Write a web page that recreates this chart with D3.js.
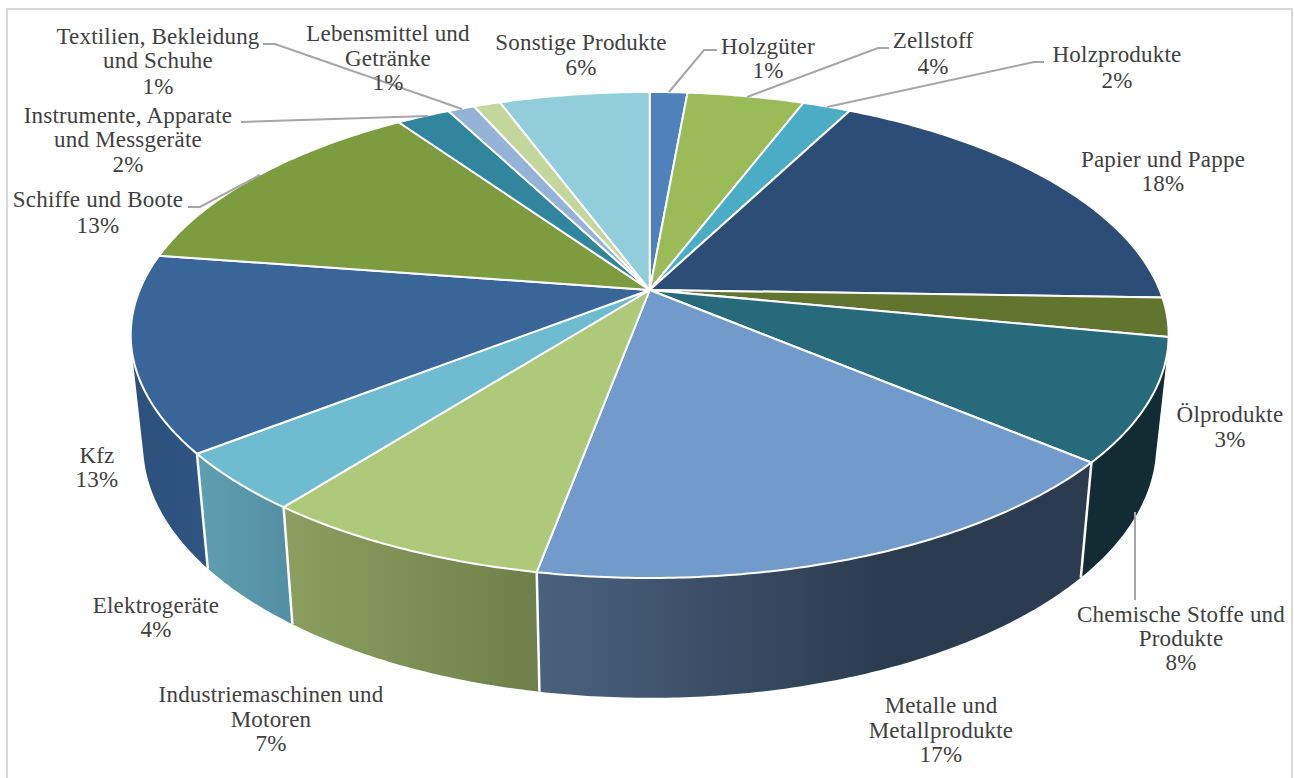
<!DOCTYPE html>
<html lang="de"><head><meta charset="utf-8"><title>Pie</title>
<script src="https://cdn.jsdelivr.net/npm/d3@7"></script>
<style>html,body{margin:0;padding:0;background:#fff;overflow:hidden}svg{display:block}
text{font-family:"Liberation Serif",serif;fill:#404040}</style></head><body>
<svg id="c" width="1294" height="778"></svg>
<script>
// --- data -----------------------------------------------------------------
const categories = ["Holzgüter","Zellstoff","Holzprodukte","Papier und Pappe","Ölprodukte","Chemische Stoffe und Produkte","Metalle und Metallprodukte","Industriemaschinen und Motoren","Elektrogeräte","Kfz","Schiffe und Boote","Instrumente, Apparate und Messgeräte","Textilien, Bekleidung und Schuhe","Lebensmittel und Getränke","Sonstige Produkte"];
const values = [1.4,4.35,1.8,17.95,2.6,8.1,16.7,7.6,3.9,13,13,2,1,1,5.6];
const percentLabels = ["1%","4%","2%","18%","3%","8%","17%","7%","4%","13%","13%","2%","1%","1%","6%"];
// --- styles ----------------------------------------------------------------
const topColors = ["#4f81bd","#9bbb59","#4bacc6","#2c4d75","#62752f","#276a7c","#729aca","#afc97a","#6fbbd0","#3a6599","#7d9c3f","#31859c","#95b3d7","#c3d69b","#92cddc"];
const wallFrom = ["#3a6599","#728a42","#37798c","#203856","#4a5823","#122c33","#4a617f","#8c9f60","#5e9fb1","#2d507c","#5c732f","#245f70","#7a93b0","#9aaa7c","#74a3af"];
const wallTo   = ["#3a6599","#728a42","#37798c","#203856","#4a5823","#122c33","#2c3c50","#6e7f4a","#5490a4","#2f5482","#5c732f","#245f70","#7a93b0","#9aaa7c","#74a3af"];
// label layout
const labelLines = [["Holzgüter"],["Zellstoff"],["Holzprodukte"],["Papier und Pappe"],["Ölprodukte"],["Chemische Stoffe und","Produkte"],["Metalle und","Metallprodukte"],["Industriemaschinen und","Motoren"],["Elektrogeräte"],["Kfz"],["Schiffe und Boote"],["Instrumente, Apparate","und Messgeräte"],["Textilien, Bekleidung","und Schuhe"],["Lebensmittel und","Getränke"],["Sonstige Produkte"]];
const labelX = [768,933,1117,1163,1230,1181,941,271,156,97,98,128,158,388,581];
const labelY = [[47,71],[41,67],[55,81],[160,184],[415,440],[615,639,663],[706,731,755],[695,720,744],[606,630],[456,480],[200,226],[116,140,165],[37,61,87],[34,59,83],[43,68]];
const leaders = [
 [[717,50],[704,50],[669,92]],
 [[889,48],[878,48],[747,97]],
 [[1044,62],[1034,62],[827,107]],
 [[1135,600],[1135,512]],
 [[188,207],[200,207],[260,175]],
 [[241,122],[428,116]],
 [[263,44],[275,44],[462,109]]
];
// --- geometry ---------------------------------------------------------------
const cx=649.7, cy=290, R=510, Ry=234.7, k=0.185;
const persp = d3.scaleLinear().domain([-1,1]).range([1+k,1-k]);
function topPoint(a){ const u=Math.sin(a), v=-Math.cos(a), w=persp(v); return [cx+R*u/w, cy+Ry*v/w]; }
const botX=d3.scaleLinear().domain([-600,600]).range([cx-585.6,cx+585.6]);
const botY=d3.scaleLinear().domain([0,100]).range([108.3+cy,104+108.3+cy]);
function botPoint(a){ const p=topPoint(a); return [botX(p[0]-cx), botY(p[1]-cy)]; }
const pie=d3.pie().sort(null).startAngle(0).endAngle(2*Math.PI);
const arcs=pie(values);
const arcAngles=d=>{const n=Math.max(4,Math.ceil((d.endAngle-d.startAngle)/0.01));return d3.range(n+1).map(i=>d.startAngle+(d.endAngle-d.startAngle)*i/n);};
const line=d3.line();
const svg=d3.select("#c");
svg.append("rect").attr("x",7).attr("y",9).attr("width",1285).attr("height",780).attr("fill","#fff").attr("stroke","#d9d9d9").attr("stroke-width",2);
const defs=svg.append("defs");
arcs.forEach((d,i)=>{
  const xs=arcAngles(d).map(a=>topPoint(a)[0]);
  const g=defs.append("linearGradient").attr("id","w"+i).attr("gradientUnits","userSpaceOnUse")
    .attr("x1",d3.min(xs)).attr("x2",d3.max(xs)).attr("y1",0).attr("y2",0);
  g.append("stop").attr("offset",0).attr("stop-color",wallFrom[i]);
  g.append("stop").attr("offset",i===6?0.62:1).attr("stop-color",wallTo[i]);
});
// a wall is the union of small quads, each with the same winding, so its outline follows the true silhouette
function wallPath(d){
  const as=arcAngles(d); let s="";
  for(let j=0;j<as.length-1;j++){
    let q=[topPoint(as[j]),topPoint(as[j+1]),botPoint(as[j+1]),botPoint(as[j])];
    if(d3.polygonArea(q)<0) q=q.reverse();
    s+=line(q)+"Z";
  }
  return s;
}
const order=arcs.map((d,i)=>({d,i})).sort((a,b)=>Math.cos(b.d.startAngle/2+b.d.endAngle/2)-Math.cos(a.d.startAngle/2+a.d.endAngle/2));
svg.append("g").selectAll("path").data(order).join("path")
  .attr("d",o=>wallPath(o.d)).attr("fill",o=>`url(#w${o.i})`);
// white seams on the visible front edges
const seams=arcs.map(d=>d.startAngle).filter(a=>-Math.cos(a)>0.25);
svg.append("g").selectAll("path").data(seams).join("path")
  .attr("d",a=>line([topPoint(a),botPoint(a)])).attr("stroke","#fff").attr("stroke-width",2.5).attr("fill","none");
// top
svg.append("g").selectAll("path").data(arcs).join("path")
  .attr("d",d=>line([[cx,cy]].concat(arcAngles(d).map(topPoint)))+"Z")
  .attr("fill",(d,i)=>topColors[i]).attr("stroke","#fff").attr("stroke-width",2).attr("stroke-linejoin","round");
// leaders
svg.append("g").selectAll("path").data(leaders).join("path").attr("d",line).attr("fill","none").attr("stroke","#a6a6a6").attr("stroke-width",2);
// labels
const lab=svg.append("g").selectAll("text").data(categories).join("text").attr("text-anchor","middle").attr("font-size",23).attr("letter-spacing",0.2);
lab.each(function(c,i){
  const lines=labelLines[i].concat([percentLabels[i]]);
  d3.select(this).selectAll("tspan").data(lines).join("tspan").attr("x",labelX[i]).attr("y",(l,j)=>labelY[i][j]+7).text(l=>l);
});
</script></body></html>
